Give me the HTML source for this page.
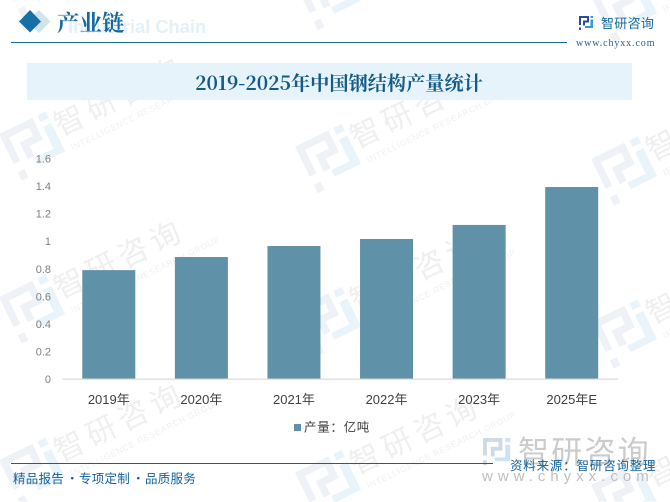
<!DOCTYPE html>
<html lang="zh-CN">
<head>
<meta charset="utf-8">
<title>2019-2025年中国钢结构产量统计</title>
<style>
html,body{margin:0;padding:0;background:#fff;width:670px;height:502px;overflow:hidden;}
#frame{position:relative;width:670px;height:502px;overflow:hidden;}
svg{display:block;position:absolute;left:0;top:0;overflow:hidden;}
.sans{font-family:"Liberation Sans","Noto Sans CJK SC",sans-serif;}
.serif{font-family:"Liberation Serif","Noto Serif CJK SC",serif;}
.cjk{font-family:"Noto Sans CJK SC","Liberation Sans",sans-serif;}
.cjkserif{font-family:"Noto Serif CJK SC","Liberation Serif",serif;font-weight:700;}
</style>
</head>
<body>
<div id="frame">
<svg id="chart" width="670" height="502" viewBox="0 0 670 502" xmlns="http://www.w3.org/2000/svg">
  <rect x="0" y="0" width="670" height="502" fill="#ffffff"/>
  <g id="watermarks"></g>

  <g>
    <g transform="translate(483 438) scale(0.97)">
      <path d="M0 0H20V13H12V19H8V9H16V4H4V18H0ZM0 23H4V28H0Z" fill="#d0d9e7"/>
      <path d="M23 0H28V4H23ZM23 7H28V24H12V20H23Z" fill="#cbe3f3"/>
    </g>
    <text class="cjk" x="518" y="463" font-size="31" letter-spacing="2.2" fill="#cbcbcb">智研咨询</text>
    <text class="sans" x="482" y="481" font-size="15" letter-spacing="5" fill="#bebebe">www.chyxx.com</text>
  </g>

  <g>
    <path d="M39 10L50.500 21.500L39 33L27 21.500Z" fill="#d3e3ec"/>
    <path d="M30 10L41 21.500L30 32.500L19 21.500Z" fill="#1570a8"/>
    <text class="sans" x="68" y="33" font-size="18.300" font-weight="700" fill="#e2f0fa">Industrial Chain</text>
    <text class="cjkserif" x="57" y="31" font-size="22.500" fill="#14689f">产业链</text>
    <rect x="11" y="42" width="556" height="1" fill="#1b6c9e"/>
    <g transform="translate(579 16) scale(0.5)">
      <path d="M0 0H20V13H12V19H8V9H16V4H4V18H0ZM0 23H4V28H0Z" fill="#2b4c9b"/>
      <path d="M23 0H28V4H23ZM23 7H28V24H12V20H23Z" fill="#2f9ade"/>
    </g>
    <text class="cjk" x="601" y="28" font-size="13" letter-spacing="0.3" fill="#14689f">智研咨询</text>
    <text class="serif" x="576" y="46" font-size="10" letter-spacing="0.9" fill="#2a5f88">www.chyxx.com</text>
  </g>

  <rect x="27" y="63" width="605" height="37" fill="#e6f3fb"/>
  <text class="cjkserif" x="339" y="90" font-size="19.200" text-anchor="middle" fill="#145a84">2019-2025年中国钢结构产量统计</text>

  <g id="plot"></g>

  <g>
    <rect x="294" y="424" width="7" height="7" fill="#5f91a8"/>
    <text class="cjk" x="304" y="431.500" font-size="12.500" letter-spacing="0.7" fill="#404040">产量：亿吨</text>
  </g>

  <g>
    <rect x="11" y="463" width="482" height="1" fill="#1a5f88"/>
    <g class="cjk" font-size="12.500" letter-spacing="0.25" fill="#14609a">
      <text x="13" y="483">精品报告</text>
      <text x="66" y="483">·</text>
      <text x="79" y="483">专项定制</text>
      <text x="132" y="483">·</text>
      <text x="145" y="483">品质服务</text>
    </g>
    <text class="cjk" x="510" y="470" font-size="12.500" letter-spacing="0.8" fill="#14609a">资料来源：智研咨询整理</text>
  </g>
</svg>
</div>
<script>
var categories = ['2019年','2020年','2021年','2022年','2023年','2025年E'];
var outputValues = [0.79,0.885,0.965,1.016,1.118,1.393];
var yTickLabels = ['0','0.2','0.4','0.6','0.8','1','1.2','1.4','1.6'];
var yTickValues = [0,0.2,0.4,0.6,0.8,1,1.2,1.4,1.6];

var NS = 'http://www.w3.org/2000/svg';
var plotLeft = 62.5, plotRight = 618, plotBottom = 379, plotTop = 158.5, yMax = 1.6;
function yScale(v){ return plotBottom - (v / yMax) * (plotBottom - plotTop); }
function xBand(){ return (plotRight - plotLeft) / categories.length; }
function xCenter(i){ return plotLeft + xBand() * (i + 0.5); }
function make(tag, attrs, parent, txt){
  var el = document.createElementNS(NS, tag);
  for (var k in attrs) el.setAttribute(k, attrs[k]);
  if (txt !== undefined) el.textContent = txt;
  parent.appendChild(el);
  return el;
}

var plot = document.getElementById('plot');
var barWidth = 53;
outputValues.forEach(function(v, i){
  var top = yScale(v);
  var bar = make('rect', {x: xCenter(i) - barWidth / 2, y: top, width: barWidth, height: plotBottom - top, fill: '#5f91a8'}, plot);
  
  
});
var axisLine = make('rect', {x: plotLeft, y: plotBottom - 0.5, width: plotRight - plotLeft, height: 1.2, fill: '#d9d9d9'}, plot);


yTickLabels.forEach(function(label, i){
  var t = make('text', {x: 51, y: yScale(yTickValues[i]) + 4, 'text-anchor': 'end', 'font-size': 11, fill: '#7f7f7f', 'class': 'sans'}, plot, label);
  
  
});
categories.forEach(function(label, i){
  var t = make('text', {x: xCenter(i), y: 404, 'text-anchor': 'middle', 'font-size': 13, fill: '#404040', 'class': 'sans'}, plot, label);
  
  
});

/* repeated faint brand watermark; logo pieces are cut to the page edge */
var wm = document.getElementById('watermarks');
var darkPieces = [[0,0,20,4],[0,4,4,18],[16,4,20,13],[8,9,16,13],[8,13,12,19],[0,23,4,28]];
var lightPieces = [[23,0,28,4],[23,7,28,24],[12,20,23,24]];
function clipToBottom(poly, limit){
  var out = [];
  for (var i = 0; i < poly.length; i++) {
    var a = poly[i], b = poly[(i + 1) % poly.length];
    if (a[1] <= limit) out.push(a);
    if ((a[1] <= limit) !== (b[1] <= limit)) {
      var t = (limit - a[1]) / (b[1] - a[1]);
      out.push([a[0] + t * (b[0] - a[0]), limit]);
    }
  }
  return out;
}
function logoPath(pieces, ax, ay){
  var ang = -26 * Math.PI / 180, co = Math.cos(ang), si = Math.sin(ang), d = '';
  pieces.forEach(function(p){
    var corners = [[p[0],p[1]],[p[2],p[1]],[p[2],p[3]],[p[0],p[3]]].map(function(q){
      var lx = -69 + q[0] * 1.85, ly = -18 + q[1] * 1.85;
      return [ax + lx * co - ly * si, ay + lx * si + ly * co];
    });
    var poly = clipToBottom(corners, 501.5);
    if (poly.length > 2) {
      d += 'M' + poly.map(function(q){ return q[0].toFixed(1) + ' ' + q[1].toFixed(1); }).join('L') + 'Z';
    }
  });
  return d;
}
for (var c = -1; c < 3; c++) {
  for (var r = -1; r < 3; r++) {
    var ax = 69 + c * 296;
    var ay = 120 + c * 12.5 + r * 163;
    var rot = 'translate(' + ax + ' ' + ay + ') rotate(-26)';
    var tile = make('g', {}, wm);
    
    
    make('text', {transform: rot, x: -15, y: 11, 'font-size': 30, 'letter-spacing': 5.5, fill: '#efefef', 'class': 'cjk'}, tile, '智研咨询');
    if (!(r === 2 && c === 2)) {
      make('text', {transform: rot, x: -10, y: 29, 'font-size': 8.5, 'letter-spacing': 0.75, fill: '#efefef', 'class': 'sans'}, tile, 'INTELLIGENCE RESEARCH GROUP');
    }
    make('path', {d: logoPath(darkPieces, ax, ay), fill: '#eef1f6'}, tile);
    make('path', {d: logoPath(lightPieces, ax, ay), fill: '#e9f4fa'}, tile);
  }
}
</script>
</body>
</html>
